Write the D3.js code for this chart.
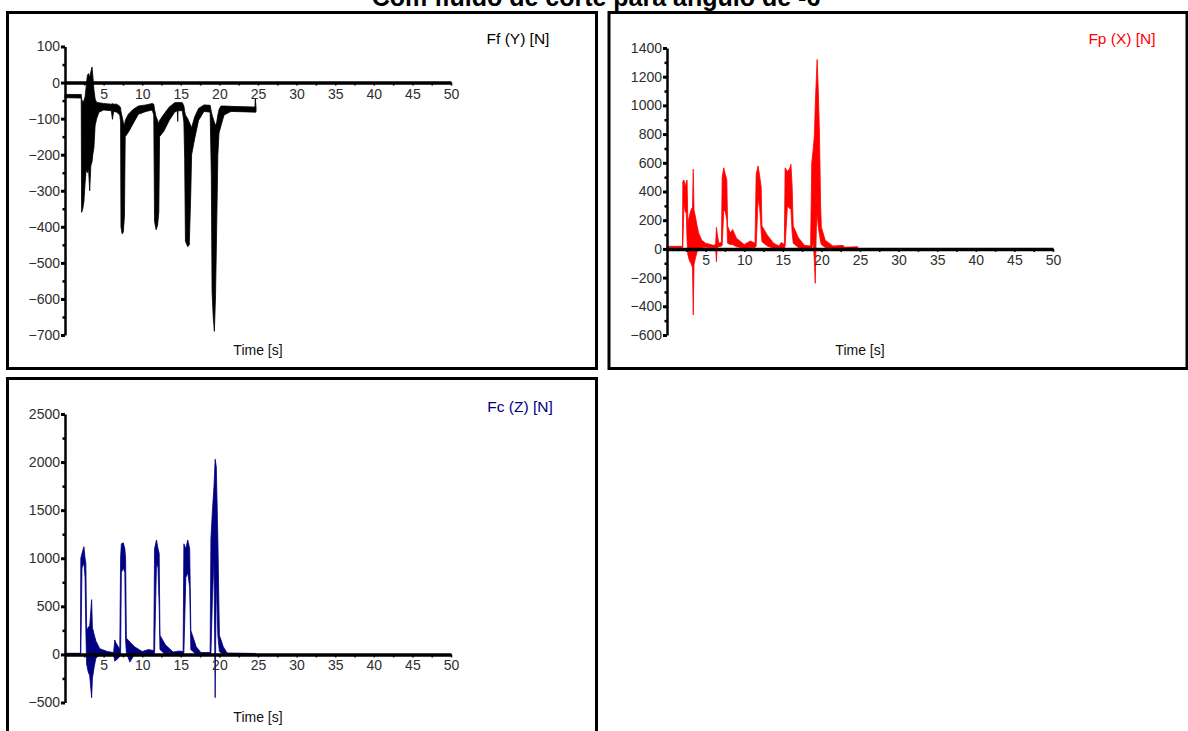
<!DOCTYPE html>
<html>
<head>
<meta charset="utf-8">
<script src="https://cdn.jsdelivr.net/npm/d3@7"></script>
<style>
body { margin: 0; background: #fff; }
text { font-family: Arial, "Liberation Sans", sans-serif; }
</style>
</head>
<body>
<svg id="chart" width="1188" height="731"></svg>
<script>
var chartTitle = 'Com fluido de corte para ângulo de -6°';
var timeTicks = [5, 10, 15, 20, 25, 30, 35, 40, 45, 50];
var ffTicks = [100, 0, -100, -200, -300, -400, -500, -600, -700];
var fpTicks = [1400, 1200, 1000, 800, 600, 400, 200, 0, -200, -400, -600];
var fcTicks = [2500, 2000, 1500, 1000, 500, 0, -500];

// Ff (Y): time [s], upper and lower edge of the noisy trace [N]
var ffTime = [0, 2.1, 2.15, 2.3, 2.45, 2.6, 2.75, 2.9, 3.05, 3.2, 3.35, 3.5, 3.6, 3.75, 3.9, 4.1, 4.4, 5.0, 6.0, 6.15, 6.3,
    6.7, 7.1, 7.2, 7.25, 7.4, 7.55, 7.7, 7.8, 8.2, 8.8, 9.5, 10.5, 11.3, 11.5, 11.6, 11.8, 12.0, 12.15, 12.25, 12.8,
    13.5, 14.2, 14.55, 14.6, 14.65, 15.2, 15.4, 15.5, 15.6, 15.9, 16.1, 16.3, 16.4, 16.8, 17.3, 18.0, 18.8, 18.95, 19.05, 19.2,
    19.35, 19.5, 19.65, 19.8, 19.95, 20.2, 20.6, 21.5, 24.6, 24.65, 24.75];
var ffHigh = [-33, -33, -45, -55, -50, -40, -10, 20, 25, 15, 30, 43, 20, -20, -45, -55, -56, -58, -60, -58, -60,
    -60, -66, -70, -80, -95, -110, -120, -105, -88, -75, -65, -62, -58, -60, -75, -95, -105, -115, -105, -88,
    -68, -56, -55, -55, -55, -56, -65, -80, -90, -100, -110, -120, -125, -95, -72, -62, -63, -80, -90, -100,
    -110, -120, -110, -90, -75, -65, -65, -66, -68, -43, -70];
var ffLow = [-42, -43, -360, -350, -330, -280, -240, -250, -240, -300, -230, -220, -200, -180, -120, -100, -82, -76, -78, -102, -80,
    -82, -90, -110, -400, -420, -415, -370, -150, -138, -115, -88, -80, -76, -90, -385, -408, -395, -360, -150, -135,
    -105, -82, -78, -108, -78, -78, -110, -210, -440, -455, -450, -300, -200, -155, -105, -80, -82, -250, -580, -650,
    -690, -590, -400, -200, -140, -120, -90, -80, -82, -83, -80];

// Fp (X)
var fpTime = [0, 2.0, 2.05, 2.2, 2.35, 2.5, 2.6, 2.7, 2.9, 3.1, 3.3, 3.4, 3.5, 3.7, 3.9, 4.1, 4.5, 5.0, 6.0, 6.3,
    6.4, 6.5, 6.7, 7.05, 7.15, 7.35, 7.55, 7.75, 7.85, 8.2, 8.5, 9.0, 10.0, 10.8, 11.4, 11.55, 11.8, 12.0, 12.2, 12.3,
    13.0, 13.8, 14.5, 14.8, 15.2, 15.3, 15.6, 15.9, 16.05, 16.2, 16.35, 17.0, 17.8, 18.6, 18.75, 18.95, 19.1, 19.2, 19.35, 19.45,
    19.6, 19.75, 19.9, 20.0, 20.5, 21.5, 22.8, 23.0, 24.7];
var fpHigh = [18, 18, 470, 480, 430, 470, 480, 180, 230, 270, 290, 555, 270, 220, 160, 110, 60, 40, 25, 30,
    150, 110, 40, 45, 500, 565, 520, 480, 160, 110, 135, 75, 30, 55, 40, 520, 578, 510, 430, 160,
    95, 40, 20, 45, 30, 565, 540, 560, 590, 450, 160, 80, 25, 20, 600, 700, 800, 1000, 1200, 1320,
    1100, 800, 300, 150, 60, 20, 25, 12, 15];
var fpLow = [8, 8, 10, 320, 260, 250, 60, -40, -80, -100, -130, -460, -110, -60, -20, 0, 10, 12, 8, 8,
    -90, 10, 15, 20, 25, 270, 260, 200, 40, 30, 30, 15, 5, 10, 10, 20, 350, 290, 120, 50,
    20, 5, 0, 5, 5, 20, 300, 280, 280, 120, 40, 10, 0, 0, 0, 50, -100, -240, 150, 250,
    150, 100, 50, 30, 10, 5, 5, 5, 5];

// Fc (Z)
var fcTime = [0, 2.0, 2.05, 2.2, 2.45, 2.6, 2.7, 2.8, 3.0, 3.2, 3.45, 3.55, 3.8, 4.0, 4.5, 5.5, 6.3, 6.45, 6.6, 6.9,
    7.1, 7.2, 7.3, 7.55, 7.75, 7.85, 7.95, 8.4, 9.0, 10.0, 10.8, 11.5, 11.6, 11.85, 12.05, 12.2, 12.3, 13.0, 14.0, 14.8,
    15.3, 15.4, 15.65, 15.9, 16.15, 16.3, 17.0, 17.6, 18.8, 18.9, 19.1, 19.3, 19.45, 19.6, 19.8, 20.0, 20.5, 21.0, 24.7];
var fcHigh = [12, 12, 1000, 1050, 1120, 1000, 950, 250, 280, 300, 570, 280, 200, 140, 60, 30, 20, 150, 120, 80,
    60, 1000, 1150, 1160, 1100, 1000, 170, 130, 80, 30, 50, 40, 1100, 1190, 1100, 1050, 200, 100, 25, 35,
    30, 1150, 1100, 1190, 1100, 250, 80, 20, 20, 1200, 1500, 1750, 2030, 1950, 1200, 200, 80, 15, 10];
var fcLow = [0, 0, 0, 900, 950, 800, 250, -100, -180, -220, -450, -250, -120, -40, 0, 0, 0, -70, -60, -40,
    -20, 0, 850, 900, 850, 150, 20, -80, 0, 0, 0, 0, 20, 950, 900, 500, 50, 0, 0, 0,
    0, 20, 800, 850, 700, 50, 0, 0, 0, 0, 600, 1000, -450, 800, 200, 30, 0, 0, 0];

var panels = [
    { frame: [7.5, 12.5, 589, 356], x0: 65, y0: 46.5, y1: 335, domain: [100, -700], ticks: ffTicks,
      time: ffTime, high: ffHigh, low: ffLow, color: '#000000', label: 'Ff (Y) [N]', labelX: 518, labelY: 44, timeY: 355 },
    { frame: [609, 12.5, 578, 356], x0: 667, y0: 48, y1: 335, domain: [1400, -600], ticks: fpTicks,
      time: fpTime, high: fpHigh, low: fpLow, color: '#ff0000', label: 'Fp (X) [N]', labelX: 1122, labelY: 44, timeY: 355 },
    { frame: [7.5, 378.5, 589, 400], x0: 65, y0: 414, y1: 702.5, domain: [2500, -500], ticks: fcTicks,
      time: fcTime, high: fcHigh, low: fcLow, color: '#000080', label: 'Fc (Z) [N]', labelX: 520, labelY: 412, timeY: 722 }
];

function midpoints(arr) {
    var out = [];
    for (let i = 0; i < arr.length - 1; i++) {
        out.push((arr[i] + arr[i + 1]) / 2);
    }
    return out;
}

function drawPanel(svg, p) {
    svg.append('rect')
        .attr('x', p.frame[0]).attr('y', p.frame[1])
        .attr('width', p.frame[2]).attr('height', p.frame[3])
        .attr('fill', 'none')
        .attr('stroke', '#000')
        .attr('stroke-width', 3);

    var xScale = d3.scaleLinear().domain([0, 50]).range([p.x0, p.x0 + 386]);
    var yScale = d3.scaleLinear().domain(p.domain).range([p.y0, p.y1]);

    var pts = p.time.map((t, i) => ({ t: t, hi: p.high[i], lo: p.low[i] }));
    var area = d3.area()
        .x(d => xScale(d.t))
        .y0(d => yScale(d.lo))
        .y1(d => yScale(d.hi));

    svg.append('path')
        .datum(pts)
        .attr('d', area)
        .attr('fill', p.color)
        .attr('stroke', p.color)
        .attr('stroke-width', 0.8)
        .attr('stroke-linejoin', 'miter');

    // y axis
    var yAxis = svg.append('g')
        .attr('transform', `translate(${p.x0},0)`)
        .call(d3.axisLeft(yScale).tickValues(p.ticks).tickFormat(d3.format('d'))
            .tickSize(4).tickSizeOuter(0).tickPadding(1));
    yAxis.select('.domain').attr('stroke-width', 2.5);
    yAxis.selectAll('.tick line').attr('stroke-width', 3);
    yAxis.selectAll('.tick text').attr('fill', '#2e2e2e').style('font-size', '14px');
    var yMinor = svg.append('g')
        .attr('transform', `translate(${p.x0},0)`)
        .call(d3.axisLeft(yScale).tickValues(midpoints(p.ticks)).tickSize(2.5).tickSizeOuter(0).tickFormat(''));
    yMinor.select('.domain').remove();
    yMinor.selectAll('.tick line').attr('stroke-width', 2.5);

    // time axis at zero
    var xAxis = svg.append('g')
        .attr('transform', `translate(0,${yScale(0)})`)
        .call(d3.axisBottom(xScale).tickValues(timeTicks).tickSize(3).tickSizeOuter(0).tickPadding(3));
    xAxis.select('.domain').attr('stroke-width', 3.5);
    xAxis.selectAll('.tick line').attr('stroke-width', 1.5);
    xAxis.selectAll('.tick text').attr('fill', '#2e2e2e').style('font-size', '14px');
    var xMinor = svg.append('g')
        .attr('transform', `translate(0,${yScale(0)})`)
        .call(d3.axisBottom(xScale).tickValues(midpoints([0].concat(timeTicks))).tickSize(3).tickSizeOuter(0).tickFormat(''));
    xMinor.select('.domain').remove();
    xMinor.selectAll('.tick line').attr('stroke-width', 1.5);

    svg.append('text')
        .attr('x', p.labelX).attr('y', p.labelY)
        .attr('text-anchor', 'middle')
        .attr('fill', p.color)
        .style('font-size', '15.5px')
        .text(p.label);

    svg.append('text')
        .attr('x', p.x0 + 193).attr('y', p.timeY)
        .attr('text-anchor', 'middle')
        .attr('fill', '#111')
        .style('font-size', '14px')
        .text('Time [s]');
}

var svg = d3.select('#chart');
svg.append('rect').attr('width', 1188).attr('height', 731).attr('fill', '#fff');

svg.append('text')
    .attr('x', 601).attr('y', 6)
    .attr('text-anchor', 'middle')
    .attr('font-weight', 'bold')
    .style('font-size', '25px')
    .text(chartTitle);

panels.forEach(p => drawPanel(svg, p));
</script>
</body>
</html>
